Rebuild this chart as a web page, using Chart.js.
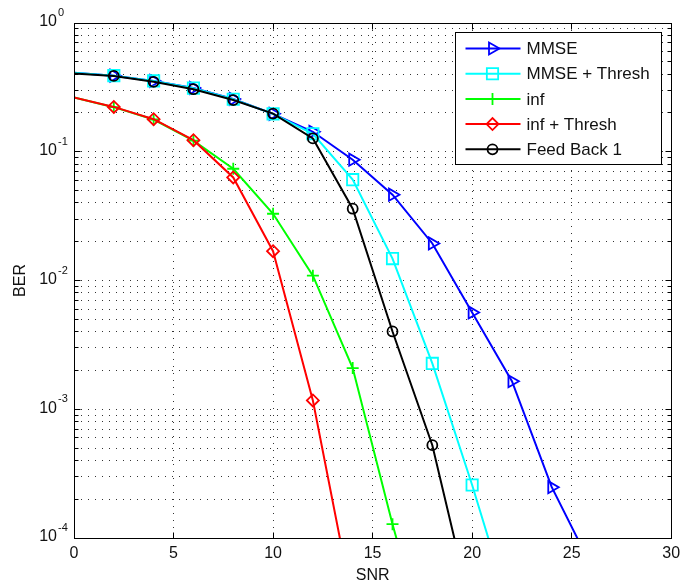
<!DOCTYPE html>
<html>
<head>
<meta charset="utf-8">
<script src="https://cdn.jsdelivr.net/npm/chart.js@4.4.1/dist/chart.umd.min.js"></script>
<style>
  body { margin: 0; background: #fff; }
  canvas { display: block; }
</style>
</head>
<body>
<canvas id="my_graph" width="681" height="588"></canvas>
<script>
// SNR points (dB)
const snr = [0, 2, 4, 6, 8, 10, 12, 14, 16, 18, 20, 22, 24, 26];

// BER curves
const berMmse = [0.41, 0.39, 0.355, 0.313, 0.257, 0.197, 0.143, 0.0867, 0.0464, 0.0194, 0.00565, 0.00165, 0.000248, 0.00006];
const berMmseThresh = [0.41, 0.39, 0.355, 0.312, 0.256, 0.197, 0.138, 0.0607, 0.0148, 0.00227, 0.000258, 0.000025];
const berInf = [0.264, 0.222, 0.178, 0.122, 0.0738, 0.033, 0.0109, 0.00209, 0.000128, 0.00001];
const berInfThresh = [0.264, 0.223, 0.179, 0.123, 0.0632, 0.0169, 0.00117, 0.000031];
const berFeedBack = [0.405, 0.388, 0.349, 0.306, 0.252, 0.198, 0.127, 0.0361, 0.00402, 0.000526, 0.000026];

const seriesNames = ['MMSE', 'MMSE + Thresh', 'inf', 'inf + Thresh', 'Feed Back 1'];

const xTicks = [0, 5, 10, 15, 20, 25, 30];
const yExponents = [0, -1, -2, -3, -4];

const font = '"Liberation Sans", Arial, Helvetica, sans-serif';

function points(values) {
  return values.map((v, i) => ({ x: snr[i], y: v }));
}

function yTickValues() {
  const out = [];
  for (let e = -4; e < 0; e++) {
    for (let m = 1; m < 10; m++) {
      out.push({ value: m * Math.pow(10, e), major: m === 1 });
    }
  }
  out.push({ value: 1, major: true });
  return out;
}

function makeSet(label, values, color, style, rotation, size, order) {
  return {
    label: label,
    data: points(values),
    borderColor: color,
    backgroundColor: color,
    borderWidth: 2,
    pointStyle: style,
    pointRotation: rotation,
    markerSize: size,
    pointRadius: c => (c.raw && c.raw.x === 0 ? 0 : size),
    pointBorderWidth: 1.8,
    pointBorderColor: color,
    pointBackgroundColor: 'rgba(0,0,0,0)',
    tension: 0,
    order: order
  };
}

const frame = {
  id: 'frame',
  afterDatasetsDraw(chart) {
    const { ctx, chartArea: a, scales: { x, y } } = chart;
    const L = Math.floor(a.left) + 0.5;
    const R = Math.floor(a.right) + 0.5;
    const T = Math.floor(a.top) + 0.5;
    const B = Math.floor(a.bottom) + 0.5;
    ctx.save();
    ctx.strokeStyle = '#000';
    ctx.lineWidth = 1;

    // inward tick marks
    ctx.beginPath();
    xTicks.forEach(v => {
      const px = Math.floor(x.getPixelForValue(v)) + 0.5;
      ctx.moveTo(px, B); ctx.lineTo(px, B - 6);
      ctx.moveTo(px, T); ctx.lineTo(px, T + 6);
    });
    yTickValues().forEach(t => {
      const py = Math.floor(y.getPixelForValue(t.value)) + 0.5;
      const len = t.major ? 6 : 4;
      ctx.moveTo(L, py); ctx.lineTo(L + len, py);
      ctx.moveTo(R, py); ctx.lineTo(R - len, py);
    });
    ctx.stroke();

    // box
    ctx.strokeRect(L, T, R - L, B - T);

    // x tick labels
    ctx.fillStyle = '#111';
    ctx.font = '16px ' + font;
    ctx.textAlign = 'center';
    ctx.textBaseline = 'middle';
    xTicks.forEach(v => {
      ctx.fillText(String(v), x.getPixelForValue(v), a.bottom + 16);
    });

    // y tick labels 10^k
    yExponents.forEach(e => {
      const py = y.getPixelForValue(Math.pow(10, e));
      ctx.font = '16px ' + font;
      ctx.textAlign = 'right';
      ctx.fillText('10', a.left - 17, py - 1);
      ctx.font = '11px ' + font;
      ctx.textAlign = 'left';
      ctx.fillText(String(e), a.left - 16, py - 10);
    });

    // axis titles
    ctx.font = '16px ' + font;
    ctx.textAlign = 'center';
    ctx.fillText('SNR', (a.left + a.right) / 2, a.bottom + 38);
    ctx.save();
    ctx.translate(21, (a.top + a.bottom) / 2);
    ctx.rotate(-Math.PI / 2);
    ctx.fillText('BER', 0, 0);
    ctx.restore();

    // legend box
    const bx = Math.floor(a.right - 216) + 0.5;
    const by = Math.floor(a.top + 9) + 0.5;
    const bw = 206, bh = 132;
    ctx.fillStyle = '#fff';
    ctx.fillRect(bx, by, bw, bh);
    ctx.strokeStyle = '#000';
    ctx.strokeRect(bx, by, bw, bh);
    chart.data.datasets.forEach((ds, i) => {
      const ry = by + 16 + i * 25.2;
      ctx.strokeStyle = ds.borderColor;
      ctx.lineWidth = 2;
      ctx.beginPath();
      ctx.moveTo(bx + 10, ry);
      ctx.lineTo(bx + 65, ry);
      ctx.stroke();
      ctx.fillStyle = 'rgba(0,0,0,0)';
      ctx.lineWidth = 1.8;
      Chart.helpers.drawPoint(ctx, {
        pointStyle: ds.pointStyle,
        rotation: ds.pointRotation,
        radius: ds.markerSize,
        borderWidth: 1.8
      }, bx + 37, ry);
      ctx.fillStyle = '#111';
      ctx.font = '17px ' + font;
      ctx.textAlign = 'left';
      ctx.textBaseline = 'middle';
      ctx.fillText(ds.label, bx + 71, ry + 1);
    });
    ctx.restore();
  }
};

const gridColor = '#333';

new Chart(document.getElementById('my_graph'), {
  type: 'line',
  data: {
    datasets: [
      makeSet(seriesNames[0], berMmse, '#0000ff', 'triangle', 90, 7, 5),
      makeSet(seriesNames[1], berMmseThresh, '#00ffff', 'rect', 0, 8, 4),
      makeSet(seriesNames[2], berInf, '#00ff00', 'cross', 0, 6, 3),
      makeSet(seriesNames[3], berInfThresh, '#ff0000', 'rectRot', 0, 6, 2),
      makeSet(seriesNames[4], berFeedBack, '#000000', 'circle', 0, 5, 1)
    ]
  },
  options: {
    responsive: false,
    animation: false,
    devicePixelRatio: 1,
    layout: { padding: { top: 23, right: 9, left: 0, bottom: 0 } },
    scales: {
      x: {
        type: 'linear',
        min: 0,
        max: 30,
        afterBuildTicks: s => { s.ticks = xTicks.map(v => ({ value: v })); },
        afterFit: s => { s.height = 50; },
        ticks: { display: false },
        grid: { color: gridColor, lineWidth: 1, drawTicks: false },
        border: { display: false, dash: [1, 6] }
      },
      y: {
        type: 'logarithmic',
        min: 1e-4,
        max: 1,
        afterBuildTicks: s => { s.ticks = yTickValues().map(t => ({ value: t.value })); },
        afterFit: s => { s.width = 74; },
        ticks: { display: false },
        grid: { color: gridColor, lineWidth: 1, drawTicks: false },
        border: { display: false, dash: [1, 6] }
      }
    },
    plugins: {
      legend: { display: false },
      tooltip: { enabled: false }
    }
  },
  plugins: [frame]
});
</script>
</body>
</html>
